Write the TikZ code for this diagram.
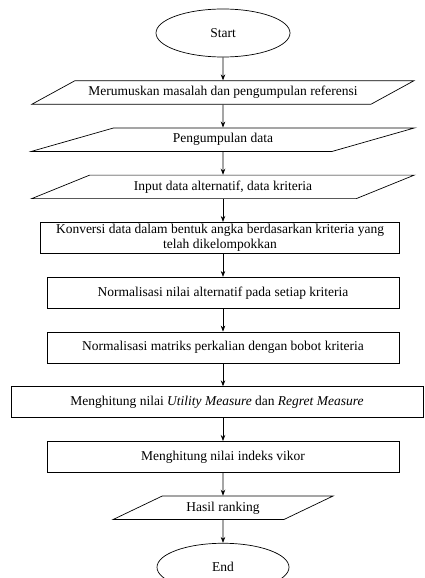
\documentclass[tikz,border=0pt]{standalone}
\usepackage{fontspec}
\setmainfont{Liberation Serif}
\usetikzlibrary{arrows.meta,positioning,shapes.geometric}

\begin{document}
\begin{tikzpicture}[
  base/.style={draw,line width=0.7pt,align=center,font=\fontsize{13.5}{15}\selectfont,inner sep=2pt},
  term/.style={base,ellipse,minimum width=134pt,minimum height=48pt},
  io/.style={base,trapezium,trapezium left angle=22.5,trapezium right angle=157.5,
    trapezium stretches=true,minimum width=384pt,minimum height=23.5pt},
  proc/.style={base,rectangle,minimum width=352pt,minimum height=31pt},
  >={Stealth[length=6pt,width=4.5pt]},node distance=23pt]
\useasboundingbox (0,0) rectangle (425pt,-578pt);
\node[term] (start) at (223pt,-33pt) {Start};
\node[io,below=of start] (rumus) {Merumuskan masalah dan pengumpulan referensi};
\node[io,below=of rumus] (kumpul) {Pengumpulan data};
\node[io,below=of kumpul] (input) {Input data alternatif, data kriteria};
\node[proc,below=of input,minimum width=359pt,xshift=-3pt] (konversi)
  {Konversi data dalam bentuk angka berdasarkan kriteria yang\\telah dikelompokkan};
\node[proc,below=of konversi,xshift=3pt] (normal) {Normalisasi nilai alternatif pada setiap kriteria};
\node[proc,below=of normal] (bobot) {Normalisasi matriks perkalian dengan bobot kriteria};
\node[proc,below=of bobot,minimum width=412pt,xshift=-6pt] (measure)
  {Menghitung nilai \textit{Utility Measure} dan \textit{Regret Measure}};
\node[proc,below=of measure,xshift=6pt] (vikor) {Menghitung nilai indeks vikor};
\node[io,below=of vikor,minimum width=220pt,trapezium left angle=27.6,trapezium right angle=152.4] (hasil) {Hasil ranking};
\node[term,below=of hasil,minimum width=132pt] (end) {End};
\draw[->,line width=0.7pt](start)--(rumus);
\draw[->,line width=0.7pt](rumus)--(kumpul);
\draw[->,line width=0.7pt](kumpul)--(input);
\draw[->,line width=0.7pt](input.south)--(input.south|-konversi.north);
\draw[->,line width=0.7pt](konversi.south-|normal)--(normal);
\draw[->,line width=0.7pt](normal)--(bobot);
\draw[->,line width=0.7pt](bobot.south)--(bobot.south|-measure.north);
\draw[->,line width=0.7pt](measure.south-|vikor)--(vikor);
\draw[->,line width=0.7pt](vikor)--(hasil);
\draw[->,line width=0.7pt](hasil)--(end);
\end{tikzpicture}
\end{document}
